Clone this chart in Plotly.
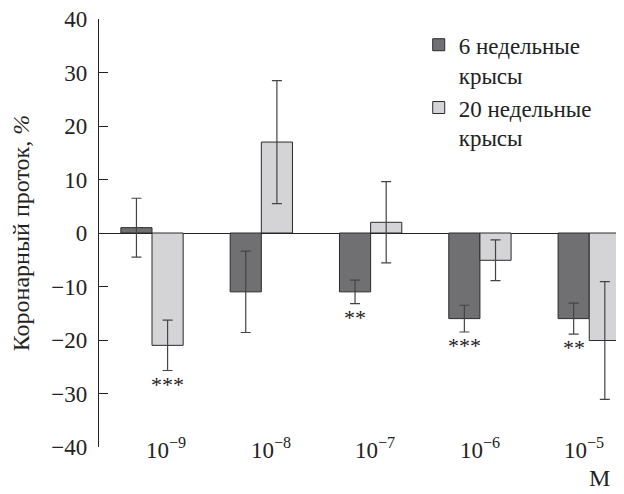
import plotly.graph_objects as go

categories = ["10<sup>−9</sup>", "10<sup>−8</sup>", "10<sup>−7</sup>", "10<sup>−6</sup>", "10<sup>−5</sup>"]
young_vals = [1.0, -11.0, -11.0, -16.0, -16.0]
young_err = [5.5, 7.6, 2.2, 2.5, 2.9]
old_vals = [-21.0, 17.0, 2.0, -5.1, -20.1]
old_err = [4.7, 11.5, 7.6, 3.8, 11.0]
young_stars = ["", "", "**", "***", "**"]
old_stars = ["***", "", "", "", ""]
series_names = ["6 недельные<br>крысы", "20 недельные<br>крысы"]
y_ticks = [-40, -30, -20, -10, 0, 10, 20, 30, 40]
x_unit = "M"

FONT = "'Liberation Serif', 'Times New Roman', 'DejaVu Serif', serif"
TXT = "#222222"
BARGAP = 0.43
xs = list(range(len(categories)))

fig = go.Figure()
fig.add_trace(go.Bar(
    x=xs, y=young_vals, name=series_names[0],
    marker=dict(color="#707072", line=dict(color="#2a2a2a", width=1)),
    error_y=dict(type="data", array=young_err, color="#444444", thickness=1.2, width=5),
))
fig.add_trace(go.Bar(
    x=xs, y=old_vals, name=series_names[1],
    marker=dict(color="#d4d4d6", line=dict(color="#2a2a2a", width=1)),
    error_y=dict(type="data", array=old_err, color="#444444", thickness=1.2, width=5),
))

w = (1 - BARGAP) / 2
ann = []
star_font = dict(family=FONT, size=22, color=TXT)
for i, s in enumerate(young_stars):
    if s:
        ann.append(dict(x=i - w / 2, y=young_vals[i] - young_err[i], text=s, showarrow=False,
                        xref="x", yref="y", yanchor="top", yshift=1, font=star_font))
for i, s in enumerate(old_stars):
    if s:
        ann.append(dict(x=i + w / 2, y=old_vals[i] - old_err[i], text=s, showarrow=False,
                        xref="x", yref="y", yanchor="top", yshift=1, font=star_font))
for i, c in enumerate(categories):
    ann.append(dict(x=i, y=y_ticks[0], text=c, showarrow=False, xref="x", yref="y",
                    yanchor="middle", xanchor="center", yshift=-1, xshift=14 - 4.7 * i,
                    font=dict(family=FONT, size=23, color=TXT)))
ann.append(dict(x=1.0, y=0, xref="paper", yref="paper", text=x_unit, showarrow=False,
                xanchor="right", yanchor="middle", xshift=-12, yshift=-31,
                font=dict(family=FONT, size=24, color=TXT)))

# page body has an 8px margin, so the figure is sized 8px smaller
fig.update_layout(
    width=616, height=486,
    margin=dict(l=91, r=0, t=11, b=47),
    paper_bgcolor="white", plot_bgcolor="white",
    barmode="group", bargap=BARGAP, bargroupgap=0,
    showlegend=True,
    legend=dict(x=0.609, y=0.99, xanchor="left", yanchor="top", valign="top",
                font=dict(family=FONT, size=23, color=TXT),
                tracegroupgap=0, bgcolor="rgba(0,0,0,0)"),
    annotations=ann,
    font=dict(family=FONT, color=TXT),
)
fig.update_xaxes(range=[-0.485, 4.318], showticklabels=False, ticks="", showline=False,
                 showgrid=False, zeroline=False, automargin=False)
fig.update_yaxes(range=[-40, 40], tickvals=y_ticks,
                 ticktext=[("−" + str(abs(v))) if v < 0 else str(v) for v in y_ticks],
                 ticks="inside", ticklen=9, tickwidth=1.2, tickcolor=TXT,
                 showline=True, linecolor=TXT, linewidth=1.3,
                 showgrid=False, zeroline=True, zerolinecolor=TXT, zerolinewidth=1.3,
                 tickfont=dict(family=FONT, size=23, color=TXT),
                 ticklabelstandoff=6, ticklabeloverflow="allow", automargin=False,
                 title=dict(text="Коронарный проток, <i>%</i>",
                            font=dict(family=FONT, size=24, color=TXT), standoff=14))

fig.write_html("out.html")
